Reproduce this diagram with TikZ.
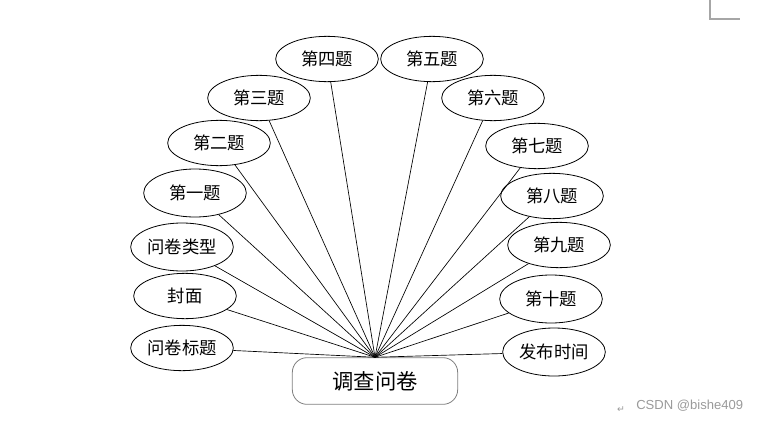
\documentclass[tikz,border=0pt]{standalone}
\usepackage{fontspec}
\usepackage{tikz}
\usetikzlibrary{shapes.geometric}
\newfontfamily\cjk{Noto Sans CJK SC}
\newfontfamily\marksfont{DejaVu Sans}
\newfontfamily\wmfont{Liberation Sans}
\definecolor{boxborder}{HTML}{7F7F7F}
\definecolor{pagemark}{HTML}{A6A6A6}
\definecolor{wmgray}{HTML}{9A9A9A}

\tikzset{
  attr/.style={ellipse,draw=black,line width=0.6pt,inner sep=0pt,
    minimum width=77pt,minimum height=34pt,font=\cjk\fontsize{13}{13}\selectfont},
  entity/.style={rectangle,rounded corners=11pt,draw=boxborder,line width=0.6pt,
    minimum width=124pt,minimum height=35pt,font=\cjk\fontsize{16}{16}\selectfont},
  link/.style={draw=black,line width=0.5pt}
}

\begin{document}
\begin{tikzpicture}[x=0.75pt,y=-0.75pt]
    \useasboundingbox (0,0) rectangle (759,421);
    \node[entity] (survey) at (375,381) {调查问卷};
    \coordinate (hub) at (survey.north);

    \node[attr] (q4) at (327,59) {第四题};
    \node[attr] (q3) at (259,98) {第三题};
    \node[attr] (q2) at (219,143) {第二题};
    \node[attr,minimum height=36pt] (q1) at (195,193) {第一题};
    \node[attr,minimum height=36pt] (kind) at (182,247) {问卷类型};
    \node[attr] (cover) at (185,296) {封面};
    \node[attr] (title) at (182,348) {问卷标题};
    \node[attr] (q5) at (432,59) {第五题};
    \node[attr] (q6) at (493,98) {第六题};
    \node[attr] (q7) at (537,146) {第七题};
    \node[attr] (q8) at (552,196) {第八题};
    \node[attr] (q9) at (559,245) {第九题};
    \node[attr,minimum height=36pt] (q10) at (551,299) {第十题};
    \node[attr,minimum height=36pt] (pubtime) at (554,352) {发布时间};

    \foreach \n in {q1,q2,q3,q4,q5,q6,q7,q8,q9,q10,kind,cover,title,pubtime}
      \draw[link] (hub) -- (\n);

    % page corner and watermark
    \draw[pagemark,line width=0.8pt] (710,0) -- (710,19) -- (740,19);
    \node[text=wmgray,inner sep=0pt,font=\marksfont\fontsize{7}{7}\selectfont] (ret) at (621,410) {↵};
    \node[text=wmgray,inner sep=0pt,anchor=west,font=\wmfont\fontsize{9.8}{9.8}\selectfont] (wm) at (636,406) {CSDN @bishe409};
  \end{tikzpicture}
\end{document}
